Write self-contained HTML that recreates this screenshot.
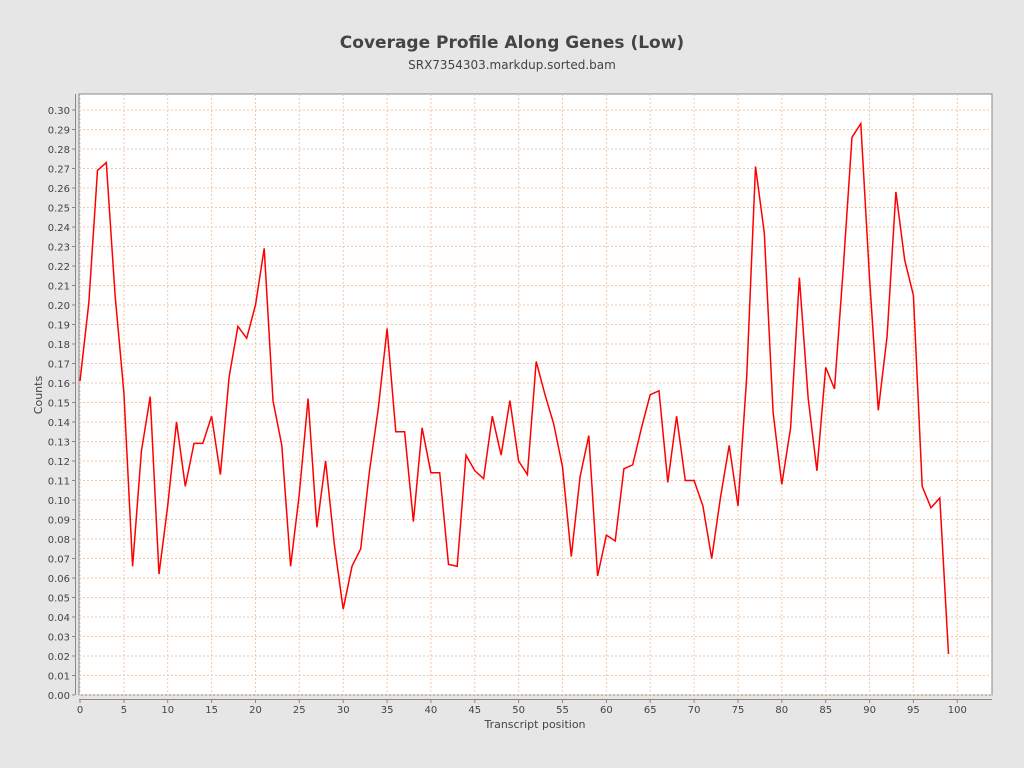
<!DOCTYPE html>
<html><head><meta charset="utf-8"><style>body{margin:0;background:#e6e6e6;}svg{display:block;font-family:"DejaVu Sans","Liberation Sans",sans-serif;}</style></head>
<body>
<svg id="s" width="1024" height="768" xmlns="http://www.w3.org/2000/svg">
<rect width="1024" height="768" fill="#e6e6e6"/>
<text x="512" y="48" text-anchor="middle" font-size="17" font-weight="bold" fill="#444">Coverage Profile Along Genes (Low)</text>
<text x="512" y="69" text-anchor="middle" font-size="12" fill="#444">SRX7354303.markdup.sorted.bam</text>
<rect x="79" y="94" width="913" height="601" fill="#fff" stroke="#888" stroke-width="1"/>
<g id="g"></g>
<line x1="75.5" y1="94" x2="75.5" y2="695" stroke="#888"/>
<line x1="79" y1="699.5" x2="992" y2="699.5" stroke="#888"/>
<text x="42" y="395" text-anchor="middle" font-size="11" fill="#444" transform="rotate(-90 42 395)">Counts</text>
<text x="535" y="728" text-anchor="middle" font-size="11" fill="#444">Transcript position</text>
</svg>
<script>
var d=[0.161,0.201,0.269,0.273,0.205,0.155,0.066,0.125,0.153,0.062,0.097,0.140,0.107,0.129,0.129,0.143,0.113,0.163,0.189,0.183,0.200,0.229,0.151,0.128,0.066,0.103,0.152,0.086,0.120,0.077,0.044,0.066,0.075,0.115,0.147,0.188,0.135,0.135,0.089,0.137,0.114,0.114,0.067,0.066,0.123,0.115,0.111,0.143,0.123,0.151,0.120,0.113,0.171,0.154,0.139,0.117,0.071,0.112,0.133,0.061,0.082,0.079,0.116,0.118,0.137,0.154,0.156,0.109,0.143,0.110,0.110,0.097,0.070,0.101,0.128,0.097,0.163,0.271,0.237,0.145,0.108,0.137,0.214,0.152,0.115,0.168,0.157,0.219,0.286,0.293,0.213,0.146,0.184,0.258,0.223,0.205,0.107,0.096,0.101,0.021];
var X=function(i){return 80+8.773*i},Y=function(v){return 695-v*1950};
var h='';
for(var k=0;k<=30;k++){var y=Y(k/100).toFixed(1);h+='<line x1="79" x2="992" y1="'+y+'" y2="'+y+'" stroke="#f2c9a8" stroke-dasharray="2,2"/>';h+='<line x1="72" x2="75" y1="'+y+'" y2="'+y+'" stroke="#888"/><text x="70" y="'+(+y+4)+'" text-anchor="end" font-size="10" fill="#444">'+(k/100).toFixed(2)+'</text>';}
for(var k=0;k<=100;k+=5){var x=X(k).toFixed(1);h+='<line y1="94" y2="695" x1="'+x+'" x2="'+x+'" stroke="#f2c9a8" stroke-dasharray="2,2"/>';h+='<line y1="699" y2="703" x1="'+x+'" x2="'+x+'" stroke="#888"/><text x="'+x+'" y="713" text-anchor="middle" font-size="10" fill="#444">'+k+'</text>';}
var p=d.map(function(v,i){return X(i).toFixed(1)+','+Y(v).toFixed(1)}).join(' ');
h+='<polyline points="'+p+'" fill="none" stroke="#f00" stroke-width="1.5"/>';
document.getElementById('g').innerHTML=h;
</script>
</body></html>
